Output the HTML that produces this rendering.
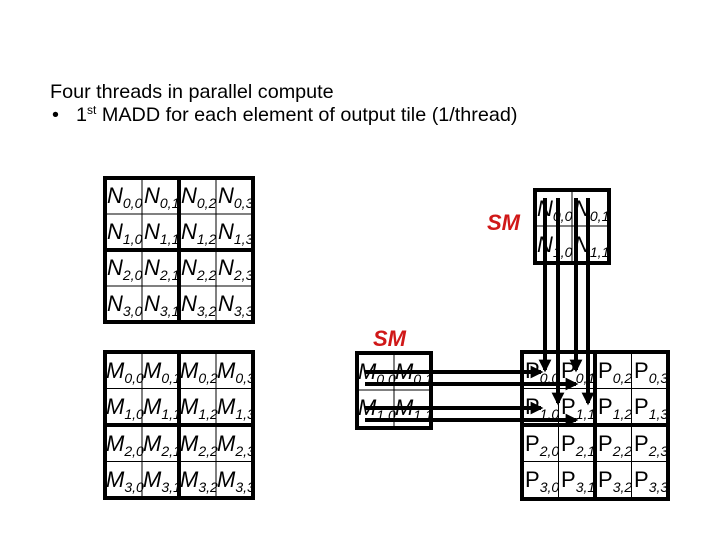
<!DOCTYPE html>
<html><head><meta charset="utf-8"><style>
html,body{margin:0;padding:0;background:#fff;width:720px;height:540px;overflow:hidden}
svg{display:block}
text{font-family:"Liberation Sans",Arial,sans-serif}
.c{font-size:22px;font-style:italic}
.s{font-size:14px}
</style></head><body>
<svg width="720" height="540" viewBox="0 0 720 540" xmlns="http://www.w3.org/2000/svg">
<defs>
<marker id="ah" markerWidth="3.2" markerHeight="3.2" refX="2.6" refY="1.6" orient="auto" markerUnits="strokeWidth">
<path d="M0,0 L3.2,1.6 L0,3.2 z" fill="#000"/>
</marker>
</defs>
<text x="50" y="98" font-size="19.8">Four threads in parallel compute</text>
<text x="52" y="121" font-size="19.8">•</text>
<text x="76" y="121" font-size="19.8">1<tspan font-size="12" dy="-7">st</tspan><tspan dy="7"> MADD for each element of output tile (1/thread)</tspan></text>

<!-- N grid -->
<g stroke="#000" fill="none">
<line x1="142" y1="178" x2="142" y2="322" stroke-width="1"/>
<line x1="216" y1="178" x2="216" y2="322" stroke-width="1"/>
<line x1="105" y1="214" x2="253" y2="214" stroke-width="1"/>
<line x1="105" y1="286" x2="253" y2="286" stroke-width="1"/>
<line x1="179" y1="178" x2="179" y2="322" stroke-width="4"/>
<line x1="105" y1="250" x2="253" y2="250" stroke-width="4"/>
<rect x="105" y="178" width="148" height="144" stroke-width="4"/>
</g>
<g class="c">
<text x="107" y="203">N<tspan class="s" dy="5">0,0</tspan></text><text x="144" y="203">N<tspan class="s" dy="5">0,1</tspan></text><text x="181" y="203">N<tspan class="s" dy="5">0,2</tspan></text><text x="218" y="203">N<tspan class="s" dy="5">0,3</tspan></text>
<text x="107" y="239">N<tspan class="s" dy="5">1,0</tspan></text><text x="144" y="239">N<tspan class="s" dy="5">1,1</tspan></text><text x="181" y="239">N<tspan class="s" dy="5">1,2</tspan></text><text x="218" y="239">N<tspan class="s" dy="5">1,3</tspan></text>
<text x="107" y="275">N<tspan class="s" dy="5">2,0</tspan></text><text x="144" y="275">N<tspan class="s" dy="5">2,1</tspan></text><text x="181" y="275">N<tspan class="s" dy="5">2,2</tspan></text><text x="218" y="275">N<tspan class="s" dy="5">2,3</tspan></text>
<text x="107" y="311">N<tspan class="s" dy="5">3,0</tspan></text><text x="144" y="311">N<tspan class="s" dy="5">3,1</tspan></text><text x="181" y="311">N<tspan class="s" dy="5">3,2</tspan></text><text x="218" y="311">N<tspan class="s" dy="5">3,3</tspan></text>
</g>

<!-- M grid -->
<g stroke="#000" fill="none">
<line x1="142" y1="352" x2="142" y2="498" stroke-width="1"/>
<line x1="216" y1="352" x2="216" y2="498" stroke-width="1"/>
<line x1="105" y1="388.5" x2="253" y2="388.5" stroke-width="1"/>
<line x1="105" y1="461.5" x2="253" y2="461.5" stroke-width="1"/>
<line x1="179" y1="352" x2="179" y2="498" stroke-width="4"/>
<line x1="105" y1="425" x2="253" y2="425" stroke-width="4"/>
<rect x="105" y="352" width="148" height="146" stroke-width="4"/>
</g>
<g class="c">
<text x="106" y="378">M<tspan class="s" dy="5">0,0</tspan></text><text x="143" y="378">M<tspan class="s" dy="5">0,1</tspan></text><text x="180" y="378">M<tspan class="s" dy="5">0,2</tspan></text><text x="217" y="378">M<tspan class="s" dy="5">0,3</tspan></text>
<text x="106" y="414">M<tspan class="s" dy="5">1,0</tspan></text><text x="143" y="414">M<tspan class="s" dy="5">1,1</tspan></text><text x="180" y="414">M<tspan class="s" dy="5">1,2</tspan></text><text x="217" y="414">M<tspan class="s" dy="5">1,3</tspan></text>
<text x="106" y="451">M<tspan class="s" dy="5">2,0</tspan></text><text x="143" y="451">M<tspan class="s" dy="5">2,1</tspan></text><text x="180" y="451">M<tspan class="s" dy="5">2,2</tspan></text><text x="217" y="451">M<tspan class="s" dy="5">2,3</tspan></text>
<text x="106" y="487">M<tspan class="s" dy="5">3,0</tspan></text><text x="143" y="487">M<tspan class="s" dy="5">3,1</tspan></text><text x="180" y="487">M<tspan class="s" dy="5">3,2</tspan></text><text x="217" y="487">M<tspan class="s" dy="5">3,3</tspan></text>
</g>

<!-- P grid -->
<g stroke="#000" fill="none">
<line x1="558.5" y1="352" x2="558.5" y2="499" stroke-width="1"/>
<line x1="631.5" y1="352" x2="631.5" y2="499" stroke-width="1"/>
<line x1="522" y1="388.5" x2="668" y2="388.5" stroke-width="1"/>
<line x1="522" y1="461.5" x2="668" y2="461.5" stroke-width="1"/>
<line x1="595" y1="352" x2="595" y2="499" stroke-width="4"/>
<line x1="522" y1="425" x2="668" y2="425" stroke-width="4"/>
<rect x="522" y="352" width="146" height="147" stroke-width="4"/>
</g>
<g font-size="22">
<text x="525" y="378">P<tspan class="s" dy="5" font-style="italic">0,0</tspan></text><text x="561" y="378">P<tspan class="s" dy="5" font-style="italic">0,1</tspan></text><text x="598" y="378">P<tspan class="s" dy="5" font-style="italic">0,2</tspan></text><text x="634" y="378">P<tspan class="s" dy="5" font-style="italic">0,3</tspan></text>
<text x="525" y="414">P<tspan class="s" dy="5" font-style="italic">1,0</tspan></text><text x="561" y="414">P<tspan class="s" dy="5" font-style="italic">1,1</tspan></text><text x="598" y="414">P<tspan class="s" dy="5" font-style="italic">1,2</tspan></text><text x="634" y="414">P<tspan class="s" dy="5" font-style="italic">1,3</tspan></text>
<text x="525" y="451">P<tspan class="s" dy="5" font-style="italic">2,0</tspan></text><text x="561" y="451">P<tspan class="s" dy="5" font-style="italic">2,1</tspan></text><text x="598" y="451">P<tspan class="s" dy="5" font-style="italic">2,2</tspan></text><text x="634" y="451">P<tspan class="s" dy="5" font-style="italic">2,3</tspan></text>
<text x="525" y="487">P<tspan class="s" dy="5" font-style="italic">3,0</tspan></text><text x="561" y="487">P<tspan class="s" dy="5" font-style="italic">3,1</tspan></text><text x="598" y="487">P<tspan class="s" dy="5" font-style="italic">3,2</tspan></text><text x="634" y="487">P<tspan class="s" dy="5" font-style="italic">3,3</tspan></text>
</g>

<!-- Ns (shared) -->
<g stroke="#000" fill="none">
<line x1="572" y1="190" x2="572" y2="263" stroke-width="1"/>
<line x1="535" y1="226" x2="609" y2="226" stroke-width="1"/>
<rect x="535" y="190" width="74" height="73" stroke-width="4"/>
</g>
<g class="c">
<text x="537" y="216">N<tspan class="s" dy="5">0,0</tspan></text><text x="574" y="216">N<tspan class="s" dy="5">0,1</tspan></text>
<text x="537" y="252">N<tspan class="s" dy="5">1,0</tspan></text><text x="574" y="252">N<tspan class="s" dy="5">1,1</tspan></text>
</g>

<!-- Ms (shared) -->
<g stroke="#000" fill="none">
<line x1="394" y1="353" x2="394" y2="428" stroke-width="1"/>
<line x1="357" y1="390" x2="431" y2="390" stroke-width="1"/>
<rect x="357" y="353" width="74" height="75" stroke-width="4"/>
</g>
<g class="c">
<text x="358" y="379">M<tspan class="s" dy="5">0,0</tspan></text><text x="395" y="379">M<tspan class="s" dy="5">0,1</tspan></text>
<text x="358" y="415">M<tspan class="s" dy="5">1,0</tspan></text><text x="395" y="415">M<tspan class="s" dy="5">1,1</tspan></text>
</g>

<!-- SM labels -->
<text x="487" y="230" font-size="22" font-weight="bold" font-style="italic" fill="#d01818">SM</text>
<text x="373" y="346" font-size="22" font-weight="bold" font-style="italic" fill="#d01818">SM</text>

<!-- arrows -->
<g stroke="#000" stroke-width="4" fill="none" marker-end="url(#ah)">
<line x1="545" y1="198" x2="545" y2="370"/>
<line x1="558" y1="198" x2="558" y2="403"/>
<line x1="576" y1="198" x2="576" y2="370"/>
<line x1="588" y1="198" x2="588" y2="403"/>
<line x1="365" y1="372" x2="541" y2="372"/>
<line x1="365" y1="384" x2="576" y2="384"/>
<line x1="365" y1="408" x2="541" y2="408"/>
<line x1="365" y1="420" x2="576" y2="420"/>
</g>
</svg>
</body></html>
